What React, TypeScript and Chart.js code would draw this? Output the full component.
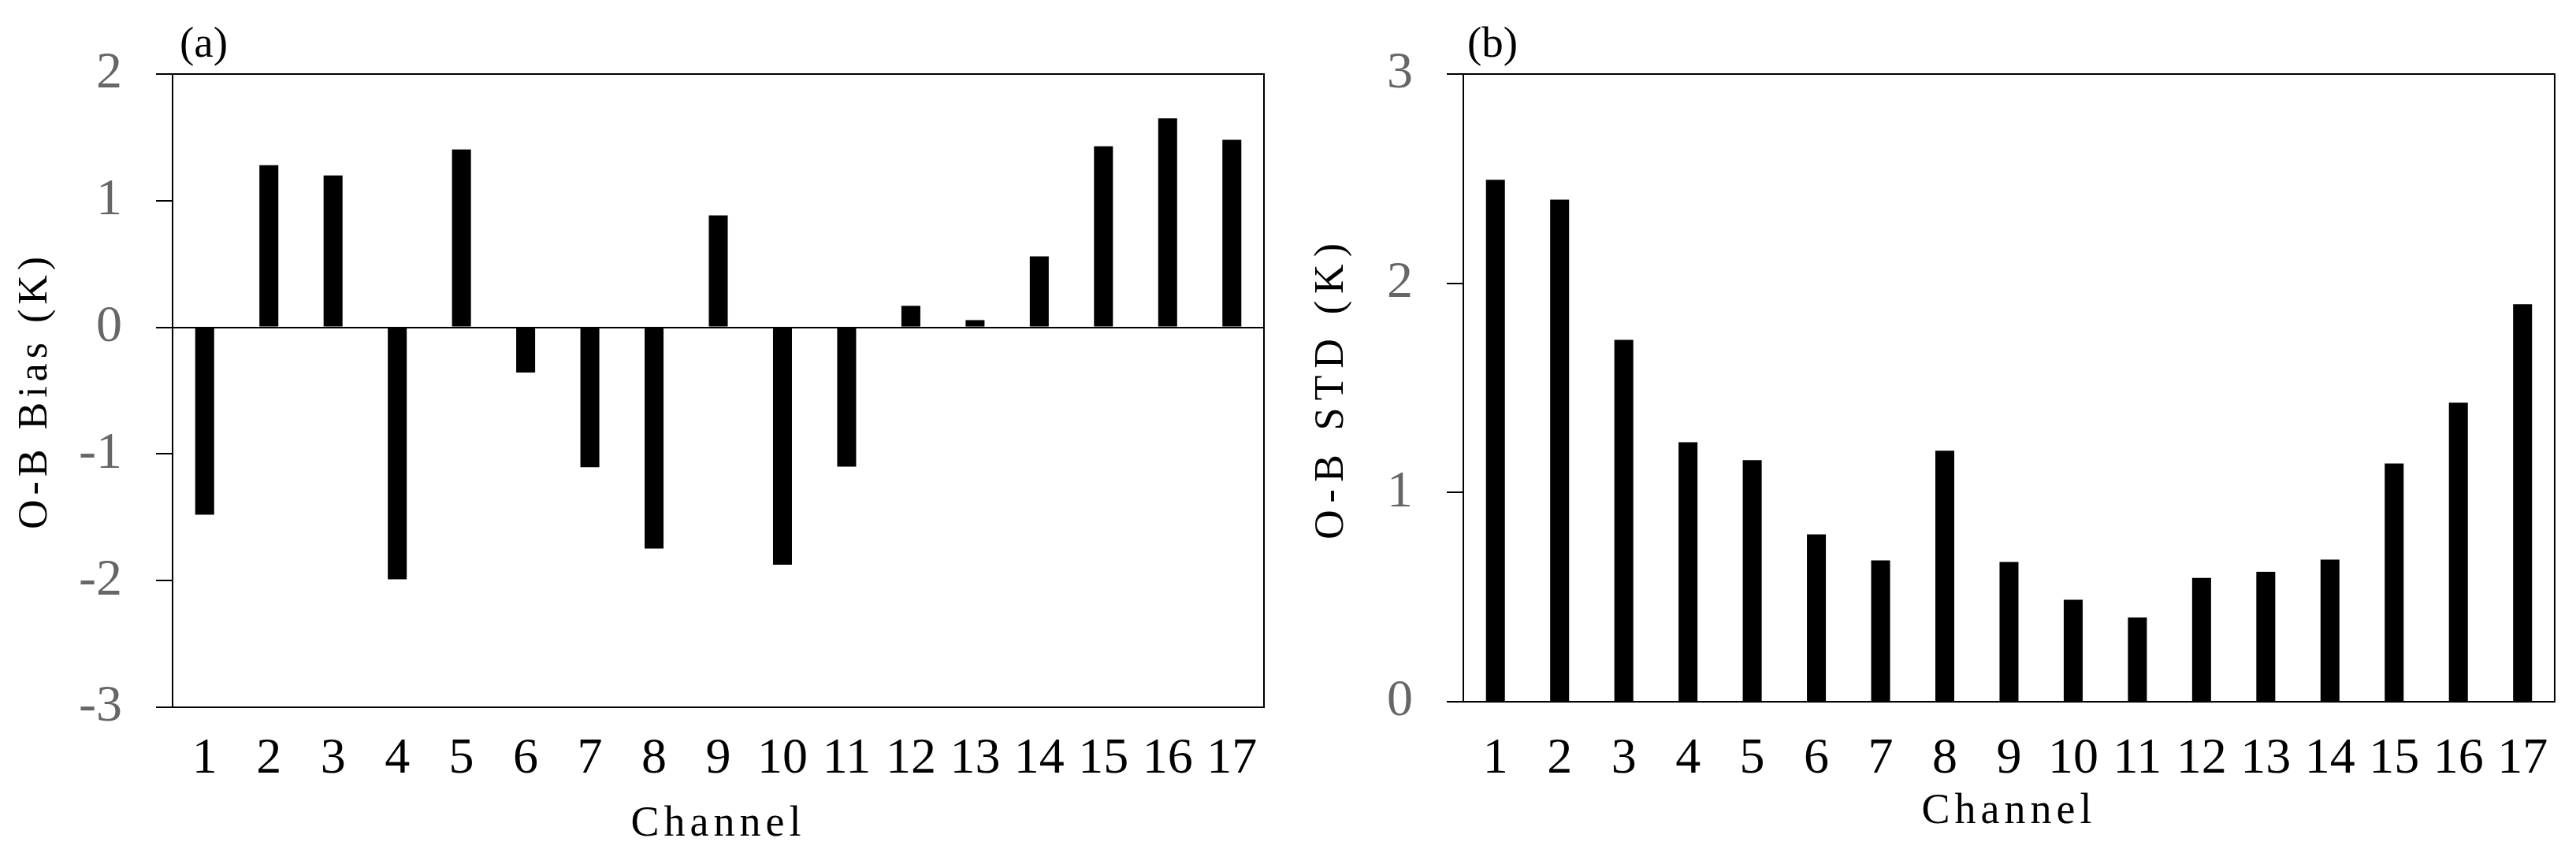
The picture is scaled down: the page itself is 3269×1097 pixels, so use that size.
import React, { useEffect, useRef } from "react";
import { Chart, registerables } from "chart.js";

Chart.register(...registerables);

const channels = ["1", "2", "3", "4", "5", "6", "7", "8", "9", "10", "11", "12", "13", "14", "15", "16", "17"];
const biasValues = [-1.48, 1.28, 1.2, -1.99, 1.405, -0.357, -1.105, -1.747, 0.884, -1.875, -1.1, 0.17, 0.057, 0.56, 1.43, 1.65, 1.48];
const stdValues = [2.495, 2.4, 1.73, 1.24, 1.155, 0.8, 0.676, 1.2, 0.668, 0.487, 0.403, 0.592, 0.621, 0.679, 1.139, 1.429, 1.9];
const biasRange = [-3, 2];
const stdRange = [0, 3];
const biasTitle = "O-B Bias (K)";
const stdTitle = "O-B STD (K)";
const xTitle = "Channel";
const panelA = "(a)";
const panelB = "(b)";

type PanelOpts = {
  values: number[];
  range: number[];
  yTitle: string;
  yTitleSpacing: string;
  panel: string;
  pad: { left: number; right: number; top: number; bottom: number };
  yWidth: number;
  xHeight: number;
  xTickPad: number;
  xTitlePad: number;
  yTitlePad: number;
  panelX: number;
  panelY: number;
};

function makeSpacing(ySpacing: string) {
  return {
    id: "titleSpacing",
    beforeDraw(chart: any) {
      const spec: Record<string, string> = { x: "6px", y: ySpacing };
      for (const id of Object.keys(spec)) {
        const s: any = chart.scales[id];
        if (s && !s.__spaced) {
          const orig = s.drawTitle.bind(s);
          s.drawTitle = function () {
            const c: any = this.ctx;
            const prev = c.letterSpacing;
            c.letterSpacing = spec[id];
            orig();
            c.letterSpacing = prev || "0px";
          };
          s.__spaced = true;
        }
      }
    },
  };
}

function makeChart(canvas: HTMLCanvasElement, o: PanelOpts) {
  const frame = {
    id: "frame",
    afterDraw(chart: any) {
      const { ctx, chartArea } = chart;
      ctx.save();
      ctx.strokeStyle = "#000";
      ctx.lineWidth = 2;
      ctx.beginPath();
      ctx.moveTo(chartArea.right, chartArea.top - 1);
      ctx.lineTo(chartArea.right, chartArea.bottom + 1);
      ctx.stroke();
      ctx.fillStyle = "#000";
      ctx.font = "55px 'Liberation Serif'";
      ctx.textBaseline = "alphabetic";
      ctx.textAlign = "left";
      ctx.fillText(o.panel, o.panelX, o.panelY);
      ctx.restore();
    },
  };
  return new Chart(canvas, {
    type: "bar",
    data: {
      labels: channels,
      datasets: [
        {
          data: o.values,
          backgroundColor: "#000",
          borderWidth: 0,
          barPercentage: 0.295,
          categoryPercentage: 1,
        },
      ],
    },
    options: {
      animation: false,
      responsive: false,
      maintainAspectRatio: false,
      layout: { padding: o.pad },
      plugins: { legend: { display: false }, tooltip: { enabled: false } },
      scales: {
        x: {
          grid: { display: false, drawTicks: false },
          border: { display: true, color: "#000", width: 2 },
          ticks: {
            color: "#000",
            padding: o.xTickPad,
            maxRotation: 0,
            autoSkip: false,
            font: { family: "'Liberation Serif'", size: 64 },
          },
          title: {
            display: true,
            text: xTitle,
            color: "#000",
            padding: { top: 0, bottom: o.xTitlePad },
            font: { family: "'Liberation Serif'", size: 54, lineHeight: 1.2 },
          },
          afterFit: (s: any) => {
            s.height = o.xHeight;
          },
        },
        y: {
          min: o.range[0],
          max: o.range[1],
          grid: {
            color: (c: any) =>
              c.tick && (c.tick.value === 0 || c.tick.value === o.range[1]) ? "#000" : "rgba(0,0,0,0)",
            tickColor: "#000",
            tickLength: 21,
            lineWidth: 2,
          },
          border: { display: true, color: "#000", width: 2 },
          ticks: {
            stepSize: 1,
            color: "#666",
            padding: 43,
            font: { family: "'Liberation Serif'", size: 66 },
            callback: (v: any) => String(v),
          },
          title: {
            display: true,
            text: o.yTitle,
            color: "#000",
            padding: { top: o.yTitlePad, bottom: 0 },
            font: { family: "'Liberation Serif'", size: 52, lineHeight: 1.2 },
          },
          afterFit: (s: any) => {
            s.width = o.yWidth;
          },
        },
      },
    },
    plugins: [frame, makeSpacing(o.yTitleSpacing)],
  });
}

export default function App() {
  const refA = useRef<HTMLCanvasElement>(null);
  const refB = useRef<HTMLCanvasElement>(null);
  useEffect(() => {
    document.body.style.margin = "0";
    const a = makeChart(refA.current!, {
      values: biasValues,
      range: biasRange,
      yTitle: biasTitle,
      yTitleSpacing: "6px",
      panel: panelA,
      pad: { left: 0, right: 46, top: 94, bottom: 0 },
      yWidth: 219,
      xHeight: 199,
      xTickPad: 28,
      xTitlePad: 18,
      yTitlePad: 14,
      panelX: 228,
      panelY: 72,
    });
    const b = makeChart(refB.current!, {
      values: stdValues,
      range: stdRange,
      yTitle: stdTitle,
      yTitleSpacing: "9px",
      panel: panelB,
      pad: { left: 0, right: 27, top: 94, bottom: 0 },
      yWidth: 207,
      xHeight: 206,
      xTickPad: 35,
      xTitlePad: 34,
      yTitlePad: 9,
      panelX: 212,
      panelY: 72,
    });
    return () => {
      a.destroy();
      b.destroy();
    };
  }, []);
  return (
    <div style={{ position: "absolute", left: 0, top: 0, width: 3269, height: 1097, background: "#fff" }}>
      <canvas ref={refA} width={1650} height={1097} style={{ position: "absolute", left: 0, top: 0, width: 1650, height: 1097 }} />
      <canvas ref={refB} width={1619} height={1097} style={{ position: "absolute", left: 1650, top: 0, width: 1619, height: 1097 }} />
    </div>
  );
}
